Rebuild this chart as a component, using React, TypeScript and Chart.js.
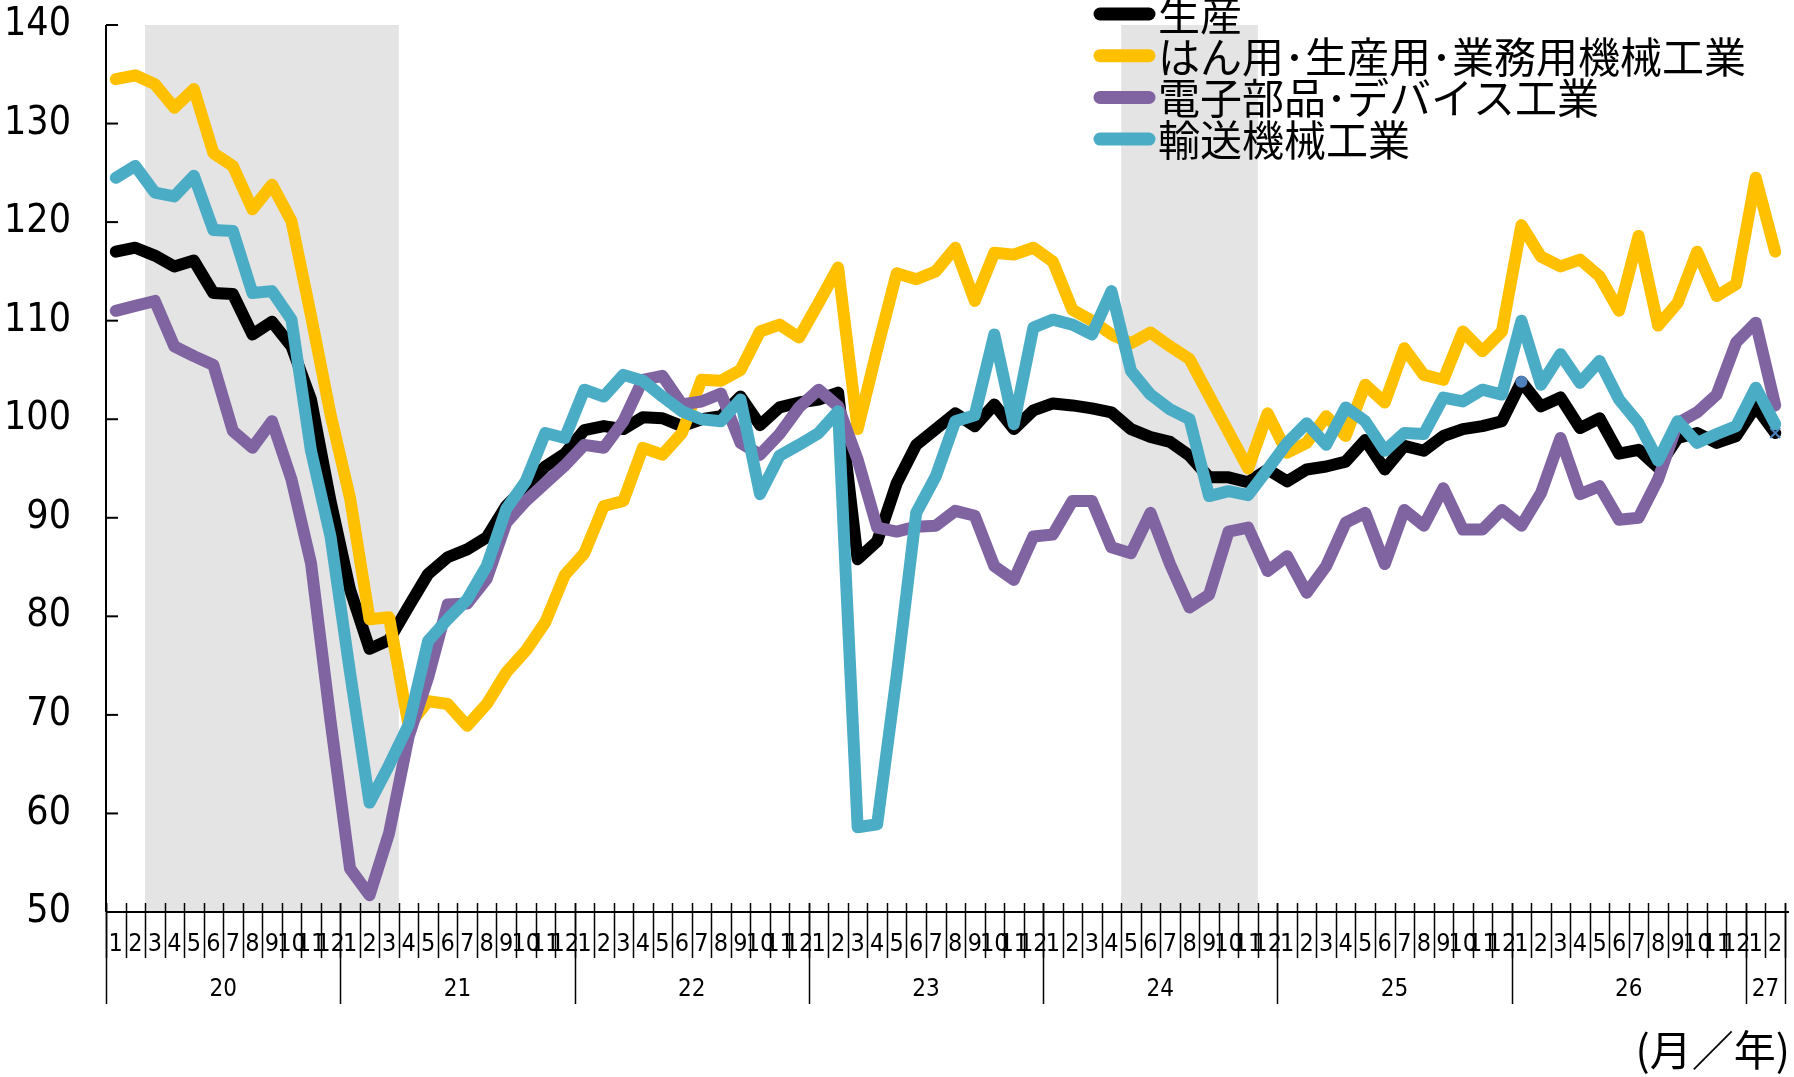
import React, { useEffect, useRef } from 'react';
import { Chart, registerables } from 'chart.js';

Chart.register(...registerables);

// ---- categories (month of each observation) ----
const categories: string[] = [
  '1', '2', '3', '4', '5', '6', '7', '8', '9', '10', '11', '12',
  '1', '2', '3', '4', '5', '6', '7', '8', '9', '10', '11', '12',
  '1', '2', '3', '4', '5', '6', '7', '8', '9', '10', '11', '12',
  '1', '2', '3', '4', '5', '6', '7', '8', '9', '10', '11', '12',
  '1', '2', '3', '4', '5', '6', '7', '8', '9', '10', '11', '12',
  '1', '2', '3', '4', '5', '6', '7', '8', '9', '10', '11', '12',
  '1', '2', '3', '4', '5', '6', '7', '8', '9', '10', '11', '12',
  '1', '2',
];
const yearLabels: string[] = ['20', '21', '22', '23', '24', '25', '26', '27'];
const yearMonthCounts: number[] = [12, 12, 12, 12, 12, 12, 12, 2];
const yTicks: number[] = [50, 60, 70, 80, 90, 100, 110, 120, 130, 140];
// shaded periods, as [first index, last index]
const shadedRanges: number[][] = [[2, 14], [52, 58]];

const seriesNames: string[] = ['生産', 'はん用･生産用･業務用機械工業', '電子部品･デバイス工業', '輸送機械工業'];
const unitLabel = '(月／年)';

// ---- series values ----
const production: number[] = [
  117.0, 117.4, 116.6, 115.5, 116.1, 112.8, 112.7, 108.6, 109.9, 107.4, 102.0, 91.7,
  82.7, 76.7, 77.6, 81.0, 84.3, 86.0, 86.8, 88.0, 91.2, 93.2, 95.2, 96.5,
  98.9, 99.3, 99.0, 100.2, 100.1, 99.3, 100.0, 100.3, 102.3, 99.4, 101.2, 101.7,
  102.0, 102.7, 85.8, 87.6, 93.5, 97.4, 99.0, 100.6, 99.3, 101.5, 99.0, 100.9,
  101.6, 101.4, 101.1, 100.7, 99.0, 98.2, 97.7, 96.3, 94.1, 94.1, 93.6, 94.9,
  93.7, 94.9, 95.2, 95.7, 97.9, 94.9, 97.3, 96.8, 98.3, 99.0, 99.3, 99.8,
  103.8, 101.3, 102.2, 99.1, 100.1, 96.5, 96.9, 95.1, 98.1, 98.6, 97.6, 98.3,
  101.3, 98.6,
];
const generalMachinery: number[] = [
  134.5, 134.9, 134.0, 131.6, 133.5, 127.0, 125.7, 121.3, 123.8, 120.1, 110.5, 100.5,
  92.0, 79.7, 79.9, 68.9, 71.4, 71.1, 68.9, 71.1, 74.3, 76.5, 79.4, 84.2,
  86.4, 91.2, 91.7, 97.1, 96.4, 98.6, 104.0, 103.9, 105.0, 108.9, 109.6, 108.3,
  111.8, 115.4, 99.0, 107.1, 114.8, 114.2, 115.0, 117.4, 112.0, 116.9, 116.7, 117.4,
  116.0, 111.1, 110.0, 108.6, 107.7, 108.8, 107.4, 106.1, 102.4, 98.7, 95.0, 100.6,
  96.6, 97.6, 100.3, 98.3, 103.5, 101.7, 107.2, 104.5, 104.0, 108.9, 106.9, 108.9,
  119.7, 116.5, 115.5, 116.2, 114.5, 111.0, 118.6, 109.5, 111.8, 117.0, 112.5, 113.7,
  124.5, 117.0,
];
const electronics: number[] = [
  111.0, 111.5, 112.0, 107.4, 106.4, 105.5, 98.8, 97.1, 99.8, 93.9, 85.4, 69.4,
  54.4, 51.7, 58.0, 67.8, 73.8, 81.2, 81.3, 83.8, 89.5, 91.7, 93.5, 95.3,
  97.4, 97.1, 99.8, 104.0, 104.4, 101.5, 101.8, 102.6, 97.6, 96.4, 98.5, 101.2,
  103.0, 101.3, 95.9, 89.0, 88.6, 89.1, 89.2, 90.7, 90.2, 85.1, 83.7, 88.1,
  88.3, 91.7, 91.7, 87.0, 86.4, 90.5, 85.3, 80.9, 82.2, 88.6, 89.0, 84.6,
  86.1, 82.4, 85.1, 89.5, 90.5, 85.3, 90.8, 89.2, 93.0, 88.8, 88.8, 90.8,
  89.2, 92.5, 98.1, 92.4, 93.2, 89.8, 90.0, 93.9, 99.6, 100.7, 102.5, 107.8,
  109.8, 101.4,
];
const transport: number[] = [
  124.5, 125.7, 123.0, 122.6, 124.7, 119.2, 119.1, 112.8, 113.0, 110.1, 96.8, 88.1,
  74.3, 61.1, 64.9, 69.0, 77.5, 79.7, 81.7, 85.1, 90.9, 93.7, 98.6, 98.1,
  103.0, 102.3, 104.5, 103.9, 102.3, 100.8, 100.0, 99.8, 102.0, 92.4, 96.3, 97.4,
  98.6, 100.8, 58.6, 58.9, 74.0, 90.5, 94.2, 99.8, 100.4, 108.6, 99.5, 109.3,
  110.1, 109.6, 108.6, 113.0, 104.9, 102.5, 101.0, 100.0, 92.2, 92.7, 92.3, 94.9,
  97.6, 99.6, 97.4, 101.2, 99.8, 96.8, 98.6, 98.5, 102.2, 101.8, 103.0, 102.5,
  110.0, 103.5, 106.6, 103.7, 105.9, 102.0, 99.6, 95.8, 99.8, 97.6, 98.5, 99.3,
  103.2, 99.5,
];

const seriesColors: string[] = ['#000000', '#FFC000', '#8064A2', '#4BACC6'];
const markerColor = '#4F81BD';
const highlightIndex = 72;
const lastIndex = 85;

const NARROW = '"Liberation Sans Narrow", "DejaVu Sans Condensed", "Liberation Sans", sans-serif';
const CJK = '"Noto Sans CJK JP", "Noto Sans", sans-serif';

const decorPlugin = {
  id: 'decor',
  beforeDatasetsDraw(chart: any) {
    const { ctx, scales } = chart;
    const x = scales.x;
    const y = scales.y;
    const half = (x.getPixelForValue(1) - x.getPixelForValue(0)) / 2;
    const top = y.getPixelForValue(140);
    const bottom = y.getPixelForValue(50);
    ctx.save();
    ctx.fillStyle = '#E4E4E4';
    for (const [a, b] of shadedRanges) {
      const x0 = x.getPixelForValue(a) - half;
      const x1 = x.getPixelForValue(b) + half;
      ctx.fillRect(x0, top, x1 - x0, bottom - top);
    }
    ctx.restore();
  },
  afterDraw(chart: any) {
    const { ctx, scales, chartArea } = chart;
    const x = scales.x;
    const y = scales.y;
    const half = (x.getPixelForValue(1) - x.getPixelForValue(0)) / 2;
    const n = categories.length;
    const boundary = (k: number) =>
      k < n ? x.getPixelForValue(k) - half : x.getPixelForValue(n - 1) + half;
    const axisY = y.getPixelForValue(50);
    const line = (x0: number, y0: number, x1: number, y1: number) => {
      ctx.beginPath();
      ctx.moveTo(x0, y0);
      ctx.lineTo(x1, y1);
      ctx.stroke();
    };
    ctx.save();
    ctx.strokeStyle = '#000';
    ctx.lineCap = 'butt';
    // y axis + inward ticks
    ctx.lineWidth = 2;
    line(chartArea.left, y.getPixelForValue(140), chartArea.left, axisY);
    for (const v of yTicks) {
      const yy = y.getPixelForValue(v);
      line(chartArea.left, yy, chartArea.left + 12, yy);
    }
    // x axis
    line(chartArea.left, axisY, boundary(n) + 4, axisY);
    // month separators
    ctx.lineWidth = 1.5;
    for (let k = 0; k <= n; k++) {
      const xx = Math.round(boundary(k)) + 0.5;
      line(xx, axisY - 9, xx, axisY + 46);
    }
    // year separators and labels
    ctx.fillStyle = '#000';
    ctx.font = `24px ${NARROW}`;
    ctx.textAlign = 'center';
    ctx.textBaseline = 'middle';
    let idx = 0;
    yearLabels.forEach((lab, i) => {
      const start = idx;
      const end = idx + yearMonthCounts[i];
      const xs = Math.round(boundary(start)) + 0.5;
      line(xs, axisY - 9, xs, axisY + 92);
      ctx.fillText(lab, (boundary(start) + boundary(end)) / 2, axisY + 78);
      idx = end;
    });
    const xe = Math.round(boundary(n)) + 0.5;
    line(xe, axisY - 9, xe, axisY + 92);
    // unit label
    ctx.font = `42px ${CJK}`;
    ctx.textAlign = 'right';
    ctx.fillText(unitLabel, 1790, 1050);
    // legend
    ctx.font = `42px ${CJK}`;
    ctx.textAlign = 'left';
    ctx.lineCap = 'round';
    chart.data.datasets.forEach((ds: any, i: number) => {
      const ly = 14 + i * 41.7;
      ctx.strokeStyle = ds.borderColor;
      ctx.lineWidth = 13;
      line(1100, ly, 1149, ly);
      ctx.fillStyle = '#000';
      ctx.fillText(ds.label, 1158, ly + 1);
    });
    ctx.restore();
  },
};

export default function App() {
  const canvasRef = useRef<HTMLCanvasElement | null>(null);

  useEffect(() => {
    if (!canvasRef.current) return;
    const values = [production, generalMachinery, electronics, transport];
    const chart = new Chart(canvasRef.current, {
      type: 'line',
      data: {
        labels: categories,
        datasets: values.map((data, i) => ({
          label: seriesNames[i],
          data,
          borderColor: seriesColors[i],
          backgroundColor: seriesColors[i],
          borderWidth: 12,
          borderCapStyle: 'round',
          borderJoinStyle: 'round',
          tension: 0,
          fill: false,
          order: 3 - i,
          pointRadius:
            i === 0
              ? (c: any) => (c.dataIndex === highlightIndex ? 6 : c.dataIndex === lastIndex ? 7 : 0)
              : 0,
          pointStyle: i === 0 ? (c: any) => (c.dataIndex === lastIndex ? 'crossRot' : 'circle') : 'circle',
          pointBackgroundColor: markerColor,
          pointBorderColor: markerColor,
          pointBorderWidth: i === 0 ? (c: any) => (c.dataIndex === lastIndex ? 2 : 0) : 0,
          pointHoverRadius: 0,
        })),
      },
      options: {
        animation: false,
        responsive: false,
        maintainAspectRatio: false,
        devicePixelRatio: 1,
        events: [],
        layout: { padding: { left: 0, right: 9, top: 25, bottom: 65 } },
        plugins: { legend: { display: false }, tooltip: { enabled: false } },
        scales: {
          x: {
            type: 'category',
            offset: true,
            grid: { display: false, drawTicks: false },
            border: { display: false },
            ticks: {
              autoSkip: false,
              maxRotation: 0,
              minRotation: 0,
              color: '#000',
              font: { family: NARROW, size: 25 },
              padding: 17,
            },
            afterFit: (s: any) => {
              s.height = 100;
              s.paddingLeft = 0;
              s.paddingRight = 0;
            },
          },
          y: {
            min: 50,
            max: 140,
            grid: { display: false, drawTicks: false },
            border: { display: false },
            ticks: {
              stepSize: 10,
              autoSkip: false,
              color: '#000',
              font: { family: NARROW, size: 39 },
              padding: 35,
            },
            afterFit: (s: any) => {
              s.width = 106;
              s.paddingTop = 0;
              s.paddingBottom = 0;
            },
          },
        },
      },
      plugins: [decorPlugin],
    } as any);
    return () => chart.destroy();
  }, []);

  return (
    <div style={{ position: 'absolute', left: 0, top: 0, width: 1794, height: 1077, background: '#fff' }}>
      <canvas ref={canvasRef} width={1794} height={1077} style={{ width: 1794, height: 1077 }} />
    </div>
  );
}
